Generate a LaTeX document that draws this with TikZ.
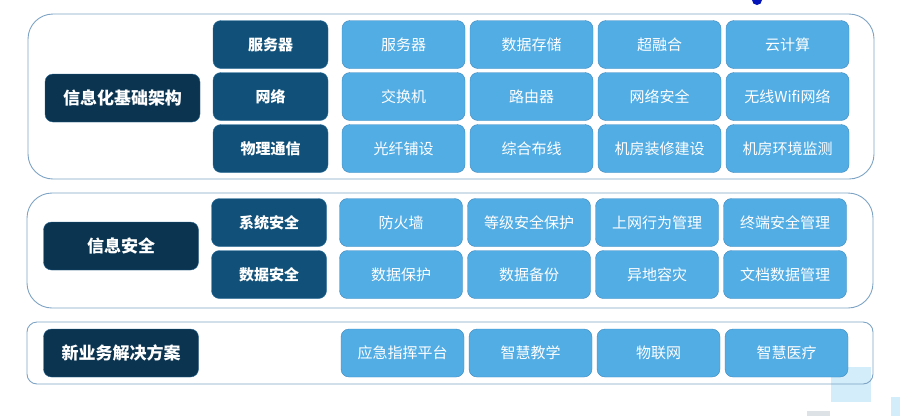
\documentclass[tikz,border=0pt]{standalone}
\usepackage{fontspec}
\setmainfont{Noto Sans CJK SC}
\usetikzlibrary{positioning}
\definecolor{navy}{RGB}{11,52,81}
\definecolor{midblue}{RGB}{17,81,121}
\definecolor{skyblue}{RGB}{82,173,229}
\definecolor{skyedge}{RGB}{62,136,190}
\definecolor{panelline}{RGB}{125,163,196}
\definecolor{paleblue}{RGB}{211,237,250}
\definecolor{palegrey}{RGB}{220,226,230}
\tikzset{
  lbl/.style={rectangle, rounded corners=8pt, minimum width=155pt, minimum height=48pt, inner sep=0pt, outer sep=0pt, text centered, draw=skyedge!60!navy, fill=navy, text=white, font=\fontsize{17}{20}\selectfont\bfseries},
  cat/.style={rectangle, rounded corners=8pt, minimum width=115pt, minimum height=48pt, inner sep=0pt, outer sep=0pt, text centered, draw=skyedge!50!midblue, fill=midblue, text=white, font=\fontsize{15}{18}\selectfont\bfseries},
  itm/.style={rectangle, rounded corners=8pt, minimum width=123pt, minimum height=48pt, inner sep=0pt, outer sep=0pt, text centered, draw=skyedge, fill=skyblue, text=white, font=\fontsize{15}{18}\selectfont},
  panel/.style={draw=panelline, line width=0.9pt},
  node distance=5pt
}
\begin{document}
\begin{tikzpicture}[x=1pt, y=-1pt]
	\useasboundingbox (0,0) rectangle (900,416);
	% background squares
	\fill[paleblue] (831,367) rectangle (871,402);
	\fill[paleblue] (891,397) rectangle (900,416);
	\fill[palegrey] (807,411) rectangle (830,416);
	\fill[blue!60!navy] (752,0) arc[start angle=180, end angle=360, radius=5pt] -- cycle;
	% panels
	\draw[panel, rounded corners=25pt] (28,14) rectangle (874,179);
	\draw[panel, rounded corners=25pt] (27,193) rectangle (873,308);
	\draw[panel, rounded corners=10pt] (27,322) rectangle (873,384);
	%
	\node[lbl] (infra) at (122.5,98) {信息化基础架构};
	\node[cat] (srv) at (270.5,44.5) {服务器};
	\node[cat, below=4pt of srv] (net) {网络};
	\node[cat, below=4pt of net] (phy) {物理通信};
	
	\node[itm, right=14pt of srv] (srvA) {服务器};
	\node[itm, right=of srvA] (srvB) {数据存储};
	\node[itm, right=of srvB] (srvC) {超融合};
	\node[itm, right=of srvC] (srvD) {云计算};
	
	\node[itm, right=14pt of net] (netA) {交换机};
	\node[itm, right=of netA] (netB) {路由器};
	\node[itm, right=of netB] (netC) {网络安全};
	\node[itm, right=of netC] (netD) {无线Wifi网络};
	
	\node[itm, right=14pt of phy] (phyA) {光纤铺设};
	\node[itm, right=of phyA] (phyB) {综合布线};
	\node[itm, right=of phyB] (phyC) {机房装修建设};
	\node[itm, right=of phyC] (phyD) {机房环境监测};
	%
	\node[lbl] (sec) at (121,246) {信息安全};
	\node[cat] (sys) at (269,222.5) {系统安全};
	\node[cat, below=4pt of sys] (dat) {数据安全};
	
	\node[itm, right=13pt of sys] (sysA) {防火墙};
	\node[itm, right=of sysA] (sysB) {等级安全保护};
	\node[itm, right=of sysB] (sysC) {上网行为管理};
	\node[itm, right=of sysC] (sysD) {终端安全管理};
	
	\node[itm, right=13pt of dat] (datA) {数据保护};
	\node[itm, right=of datA] (datB) {数据备份};
	\node[itm, right=of datB] (datC) {异地容灾};
	\node[itm, right=of datC] (datD) {文档数据管理};
	%
	\node[lbl] (biz) at (121,353) {新业务解决方案};
	\node[itm] (bizA) at (402.5,353) {应急指挥平台};
	\node[itm, right=of bizA] (bizB) {智慧教学};
	\node[itm, right=of bizB] (bizC) {物联网};
	\node[itm, right=of bizC] (bizD) {智慧医疗};
\end{tikzpicture}
\end{document}
